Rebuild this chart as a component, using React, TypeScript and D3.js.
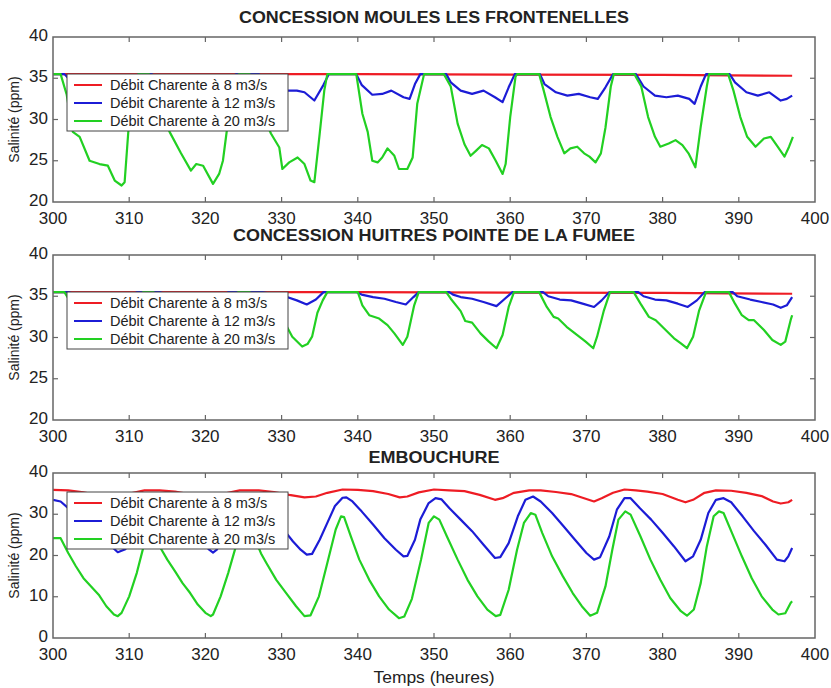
import React from "react";
import * as d3 from "d3";

// ---------- DATA (hour, salinity ppm) ----------
const SERIES_LABELS = [
  "Débit Charente à 8 m3/s",
  "Débit Charente à 12 m3/s",
  "Débit Charente à 20 m3/s",
];
const X_TICKS = [300, 310, 320, 330, 340, 350, 360, 370, 380, 390, 400];
const Y_TICKS_TOP = [20, 25, 30, 35, 40];
const Y_TICKS_EMB = [0, 10, 20, 30, 40];
const PANEL_TITLES = [
  "CONCESSION MOULES LES FRONTENELLES",
  "CONCESSION HUITRES POINTE DE LA FUMEE",
  "EMBOUCHURE",
];
const X_LABEL = "Temps (heures)";
const Y_LABEL = "Salinité (ppm)";

const moulesRed: [number, number][] = [
  [300, 35.5], [320, 35.5], [340, 35.5], [360, 35.45], [380, 35.4], [397, 35.3],
];
const moulesBlue: [number, number][] = [
  [300, 35.5], [301.5, 35.5], [302.5, 34.5], [304, 33.5], [306, 33.2], [308, 33], [309.5, 32.5], [310.5, 34], [311.2, 35.5],
  [313, 35.5], [314, 34.5], [315.5, 33.5], [317, 33.2], [319, 33.3], [321, 32.8], [322, 32.6], [323, 34], [324, 35.5],
  [327, 35.5], [328, 34.6], [329.5, 33.8], [330.6, 33.5], [332, 33.5], [333, 33.3], [334.3, 32.3], [335.5, 34.2], [336.2, 35.5],
  [339.8, 35.5], [340.5, 34.2], [341.9, 33], [343.2, 33.1], [344.4, 33.5], [346, 32.7], [346.8, 32.5], [347.5, 34.3], [348.2, 35.5],
  [351.6, 35.5], [352.2, 34.5], [353.5, 33.5], [355, 33.1], [356.5, 33.5], [358, 32.7], [359, 32.1], [359.8, 33.9], [360.6, 35.5],
  [363.9, 35.5], [364.5, 34.3], [366, 33.3], [367.5, 32.9], [369, 33.1], [370.5, 32.7], [371.5, 32.5], [372.5, 33.9], [373.5, 35.5],
  [376.5, 35.5], [377.5, 34], [379, 32.9], [380.5, 32.7], [382, 32.9], [383.5, 32.5], [384.2, 31.9], [385, 34], [385.7, 35.5],
  [388.8, 35.5], [389.5, 34.5], [391, 33.3], [392.5, 32.9], [394, 33.3], [395.5, 32.3], [396.3, 32.5], [397, 32.9],
];
const moulesGreen: [number, number][] = [
  [300, 35.5], [301, 35.5], [301.8, 33], [302.6, 28.5], [303.5, 27.9], [304.8, 25], [306.1, 24.6], [307.2, 24.4], [308.1, 22.6],
  [309, 22], [309.4, 22.4], [310, 30], [310.6, 33.5], [311.2, 35.5], [312.6, 35.5], [313.5, 33], [314.5, 30], [315.3, 28.5],
  [316.8, 25.9], [318.1, 23.8], [318.8, 24.6], [319.7, 24.4], [321, 22.2], [321.8, 23.4], [322.3, 25], [323, 30], [323.7, 34],
  [324.4, 35.5], [325.8, 35.5], [326.8, 33], [327.8, 30], [328.6, 28.3], [329.7, 26.6], [330.1, 24], [331, 24.8], [332.1, 25.4],
  [333, 24.6], [333.8, 22.6], [334.3, 22.4], [335, 28.3], [335.6, 33.5], [336, 35.5], [339.8, 35.5], [340.6, 30.7], [341.3, 28.5],
  [341.9, 25], [342.6, 24.8], [343.2, 25.4], [343.9, 26.5], [344.8, 25.6], [345.4, 24], [346.5, 24], [347.2, 25.4], [347.8, 31.9],
  [348.7, 35.5], [351.3, 35.5], [352.2, 34], [353.1, 29.5], [354, 27], [354.8, 25.6], [355.5, 26.2], [356.3, 26.9], [357.2, 26.5],
  [358.1, 25], [359, 23.4], [359.4, 24.6], [360, 30.3], [360.7, 35.2], [360.9, 35.5], [363.8, 35.5], [364.4, 33.5], [365.3, 30.3],
  [366.2, 27.9], [367.1, 25.9], [367.9, 26.5], [368.8, 26.7], [369.7, 25.9], [370.4, 25.5], [371.2, 24.8], [371.9, 25.9], [372.5, 29],
  [373.2, 34], [373.6, 35.5], [376.3, 35.5], [377.2, 34], [378.1, 30.3], [379, 27.9], [379.7, 26.7], [380.8, 27.1], [381.7, 27.5],
  [382.6, 26.9], [383.4, 25.9], [384.3, 24.2], [385, 29.1], [385.8, 34], [386.1, 35.5], [388.6, 35.5], [389.3, 33.5], [390.2, 30.3],
  [391.1, 27.9], [392.2, 26.7], [393.3, 27.7], [394.2, 27.9], [395.1, 26.7], [396, 25.5], [396.6, 26.7], [397.1, 27.9],
];

const huitresRed: [number, number][] = [
  [300, 35.5], [320, 35.5], [340, 35.5], [360, 35.45], [380, 35.4], [397, 35.3],
];
const huitresBlue: [number, number][] = [
  [300, 35.5], [302, 35.5], [303, 35.2], [305, 34.8], [307, 34.5], [309, 34], [310, 34.8], [311, 35.5],
  [314, 35.5], [315, 35.2], [317, 34.8], [319, 34.5], [321, 34], [322, 34.8], [323, 35.5],
  [327.5, 35.5], [328.5, 35.3], [330.7, 34.9], [332, 34.5], [333.3, 34], [334.5, 34.6], [335.5, 35.5],
  [339.8, 35.5], [340.5, 35.2], [342, 34.9], [343.5, 34.7], [345, 34.3], [346.3, 34], [347.3, 34.9], [348, 35.5],
  [352, 35.5], [352.5, 35.2], [353.5, 34.9], [355, 34.7], [356.5, 34.3], [358.2, 33.8], [359.3, 34.7], [360.3, 35.5],
  [364.3, 35.5], [365, 35], [366.5, 34.6], [368, 34.5], [369.5, 34.1], [371, 33.7], [372, 34.5], [373, 35.5],
  [376.8, 35.5], [377.5, 35], [379, 34.6], [380.5, 34.5], [382, 34.1], [383.3, 33.7], [384.5, 34.5], [385.5, 35.5],
  [389.2, 35.5], [389.8, 35], [391.5, 34.6], [393, 34.3], [394.5, 34], [395.5, 33.6], [396.3, 33.9], [397, 34.9],
];
const huitresGreen: [number, number][] = [
  [300, 35.5], [301.5, 35.5], [302.5, 34], [304, 32.5], [306, 31.5], [308, 30], [309, 29.2], [310, 31], [311, 34], [311.8, 35.5],
  [313.2, 35.5], [314.2, 34], [316, 32.5], [318, 31.5], [320, 30], [321, 29.3], [322, 31.5], [323.2, 34.5], [324.3, 35.5],
  [325.8, 35.5], [327, 34.5], [328.5, 33], [329.7, 32], [330.7, 31.3], [331.4, 30.1], [332.7, 28.9], [333.4, 29.2], [334, 30.1],
  [334.7, 33], [335.4, 34.5], [336, 35.5], [340, 35.5], [340.6, 33.9], [341.5, 32.7], [342.8, 32.3], [343.9, 31.5], [344.8, 30.5],
  [345.9, 29.1], [346.5, 30.1], [347.4, 33.9], [348, 35.5], [351.6, 35.5], [352.2, 34.7], [353.5, 33.2], [354.1, 32], [355, 31.8],
  [356.1, 30.5], [357.2, 29.5], [358.2, 28.7], [359, 30.3], [359.8, 33.7], [360.5, 35.5], [363.8, 35.5], [364.8, 33.7], [365.7, 32.5],
  [366.3, 32.3], [367.4, 31.3], [368.8, 30.3], [369.9, 29.5], [370.9, 28.7], [371.4, 30.1], [372.3, 33.3], [373.1, 35.5],
  [376.2, 35.5], [377.1, 34.1], [378.2, 32.5], [379.1, 32.1], [380.2, 31.1], [381.5, 29.9], [382.4, 29.3], [383.2, 28.7], [384, 30.1],
  [384.8, 33.3], [385.7, 35.5], [388.7, 35.5], [389.5, 34.1], [390.4, 32.7], [391.3, 32.1], [392, 32.1], [393.3, 30.9], [394.4, 29.7],
  [395.5, 29.1], [396.1, 29.5], [396.8, 32.1], [397, 32.7],
];

const embRed: [number, number][] = [
  [300, 35.9], [302, 35.8], [304, 35.3], [306, 34.6], [308, 34.2], [309, 34.4], [310.5, 35.2], [312, 35.8], [314, 35.8], [316, 35.5],
  [318, 34.8], [320, 34.2], [321, 34.3], [322.5, 35], [324.5, 35.8], [327, 35.8], [329, 35.4], [331, 34.7], [333, 34.1], [334.5, 34.3],
  [336, 35.2], [338, 36], [340, 35.9], [342, 35.6], [344, 34.9], [345.5, 34.1], [346.5, 34.3], [348, 35.3], [350, 36], [352, 35.8],
  [354, 35.6], [356, 34.7], [358, 33.5], [359, 33.9], [360.5, 35.2], [362.5, 35.8], [364, 35.8], [366, 35.4], [368, 34.9], [370, 33.7],
  [371, 33.1], [372, 33.9], [373.5, 35.2], [375, 36], [376.5, 35.8], [378, 35.5], [380, 34.9], [382, 33.5], [383, 32.9], [384, 33.5],
  [385.5, 35.2], [387, 35.8], [389, 35.7], [391, 35.2], [393, 34.4], [394.5, 33.1], [395.5, 32.6], [396.5, 32.9], [397, 33.5],
];
const embBlue: [number, number][] = [
  [300, 33.5], [301, 33.1], [302, 31.5], [304, 28.5], [306, 25], [307.5, 22.5], [308.5, 20.8], [309.5, 21.5], [311, 27], [312.5, 32.5],
  [313.3, 33.8], [314.5, 33], [316, 30.5], [318, 27], [319.5, 23.5], [320.5, 21.4], [321, 20.7], [321.5, 21.4], [323, 27], [324.5, 32.5],
  [325.6, 34], [326.5, 33.2], [328, 30.5], [329.5, 27.5], [330.6, 25.5], [331.5, 23.4], [332.5, 21.4], [333.3, 20.2], [334, 20.4],
  [335, 23.8], [336, 27.9], [337, 32], [338, 34], [338.5, 34.1], [339.3, 33.1], [340.5, 30.7], [342, 27.5], [343.5, 24.2], [345, 21.4],
  [346, 19.8], [346.5, 19.9], [347.5, 23.8], [348.2, 28.7], [349.3, 32.7], [350.2, 33.9], [351, 33.6], [352, 31.5], [353.5, 28.7],
  [355, 25.9], [356.5, 22.6], [358, 19.4], [358.7, 19.6], [359.8, 23], [361, 29.5], [362, 33.5], [363, 34.3], [364, 33.1], [365.5, 30.3],
  [367, 27.1], [368.5, 23.8], [370, 20.6], [371, 19], [371.8, 19.6], [373, 24.6], [374, 31.1], [375, 33.9], [375.8, 33.9], [377, 31.5],
  [378.5, 28.7], [380, 25.5], [381.5, 22.2], [383, 18.6], [384, 19.8], [385, 23.8], [386, 30.3], [387, 33.5], [388, 33.9], [389, 32.9],
  [390.5, 29.5], [392, 25.9], [393.5, 22.6], [395, 19], [396, 18.6], [396.5, 19.8], [397, 21.8],
];
const embGreen: [number, number][] = [
  [300, 24.2], [301, 24.2], [302, 20.6], [303, 17.4], [304, 14.5], [305, 12.5], [306, 10.5], [307, 7.7], [308, 5.7], [308.5, 5.3],
  [309, 6.1], [310, 10.1], [311, 15.8], [312, 23], [312.8, 28.5], [313.2, 28], [314, 22.2], [315, 19], [316, 16.2], [317, 13.3],
  [318, 10.9], [319, 8.1], [320, 6.1], [320.7, 5.3], [321, 5.7], [322, 10.1], [323, 15.8], [324, 22.2], [325, 28.5], [325.4, 29],
  [326.4, 24.5], [327.3, 20.5], [328, 18.2], [329.3, 14.1], [330.6, 10.9], [331.9, 7.7], [333, 5.3], [333.8, 5.5], [334.9, 10.1],
  [336, 18.2], [337.1, 26.3], [337.8, 29.5], [338.2, 29.3], [339.1, 24.6], [340.2, 19], [341.5, 14.1], [342.8, 10.1], [344.1, 6.9],
  [345.4, 4.8], [346.1, 5.2], [347.1, 9.5], [348.3, 19], [349.3, 27.9], [350, 29.5], [350.7, 28.7], [351.7, 24.6], [353.1, 19],
  [354.4, 14.1], [355.7, 10.1], [357, 6.9], [358.1, 5.3], [358.7, 5.6], [359.8, 11.7], [360.9, 21.4], [361.8, 27.9], [362.7, 30.3],
  [363.3, 29.9], [364.2, 25.5], [365.5, 19.8], [366.9, 15], [368.2, 10.9], [369.4, 7.7], [370.5, 5.4], [371.4, 6.1], [372.5, 12.5],
  [373.4, 21.4], [374.2, 28.7], [375.1, 30.7], [375.8, 29.9], [377.1, 24.6], [378.4, 19], [379.7, 14.1], [381, 9.7], [382.4, 6.5],
  [383.2, 5.4], [384.1, 6.9], [385, 13.3], [385.8, 22.2], [386.7, 29.5], [387.4, 30.7], [388, 30.3], [389.1, 25.5], [390.4, 19.8],
  [391.7, 14.5], [393, 10.1], [394.4, 6.9], [395.2, 5.7], [396.1, 6], [396.8, 8.5], [397, 8.9],
];

// ---------- LAYOUT / STYLE ----------
const COLORS = ["#ee1c24", "#1c1cd6", "#22d022"];
const LEFT = 53;
const RIGHT = 815;
const PH = 165;
const FONT = "Liberation Sans, Arial, Helvetica, sans-serif";

const panels = [
  { title: PANEL_TITLES[0], titleW: 390, top: 37, titleY: 17, domain: [20, 40], ticks: Y_TICKS_TOP, series: [moulesRed, moulesBlue, moulesGreen], legendTop: 74 },
  { title: PANEL_TITLES[1], titleW: 402, top: 255, titleY: 235, domain: [20, 40], ticks: Y_TICKS_TOP, series: [huitresRed, huitresBlue, huitresGreen], legendTop: 292 },
  { title: PANEL_TITLES[2], titleW: 131, top: 473, titleY: 457, domain: [0, 40], ticks: Y_TICKS_EMB, series: [embRed, embBlue, embGreen], legendTop: 492 },
];

function Panel({ p, idx }: { p: (typeof panels)[number]; idx: number }) {
  const x = d3.scaleLinear().domain([300, 400]).range([LEFT, RIGHT]);
  const y = d3.scaleLinear().domain(p.domain).range([p.top + PH, p.top]);
  const line = d3
    .line<[number, number]>()
    .x((d) => x(d[0]))
    .y((d) => y(d[1]));
  const bottom = p.top + PH;
  const clipId = `clip${idx}`;
  const lgLeft = 67;
  const lgW = 221;
  const lgH = 57;
  return (
    <g>
      <defs>
        <clipPath id={clipId}>
          <rect x={LEFT} y={p.top} width={RIGHT - LEFT} height={PH} />
        </clipPath>
      </defs>
      <rect x={LEFT} y={p.top} width={RIGHT - LEFT} height={PH} fill="#fff" />
      <g clipPath={`url(#${clipId})`}>
        {p.series.map((s, i) => (
          <path key={i} d={line(s) || ""} fill="none" stroke={COLORS[i]} strokeWidth={2.2} strokeLinejoin="round" />
        ))}
      </g>
      <rect x={LEFT} y={p.top} width={RIGHT - LEFT} height={PH} fill="none" stroke="#666" strokeWidth={1.5} />
      {X_TICKS.slice(1, -1).map((t) => (
        <g key={t}>
          <line x1={x(t)} x2={x(t)} y1={p.top} y2={p.top + 5} stroke="#666" strokeWidth={1.2} />
          <line x1={x(t)} x2={x(t)} y1={bottom} y2={bottom - 5} stroke="#666" strokeWidth={1.2} />
        </g>
      ))}
      {p.ticks.slice(1, -1).map((t) => (
        <g key={t}>
          <line x1={LEFT} x2={LEFT + 5} y1={y(t)} y2={y(t)} stroke="#666" strokeWidth={1.2} />
          <line x1={RIGHT} x2={RIGHT - 5} y1={y(t)} y2={y(t)} stroke="#666" strokeWidth={1.2} />
        </g>
      ))}
      {X_TICKS.map((t) => (
        <text key={t} x={x(t)} y={bottom + 22} textAnchor="middle" fontSize={17} fontFamily={FONT} fill="#222">
          {t}
        </text>
      ))}
      {p.ticks.map((t) => (
        <text key={t} x={LEFT - 5} y={y(t) + 4} textAnchor="end" fontSize={17} fontFamily={FONT} fill="#222">
          {t}
        </text>
      ))}
      <text
        transform={`translate(19,${p.top + PH / 2}) rotate(-90)`}
        textAnchor="middle"
        fontSize={14}
        fontFamily={FONT}
        fill="#222"
      >
        {Y_LABEL}
      </text>
      <text
        x={(LEFT + RIGHT) / 2}
        y={p.titleY + 6}
        textAnchor="middle"
        fontSize={16}
        fontWeight="bold"
        fontFamily={FONT}
        fill="#222"
        textLength={p.titleW}
        lengthAdjust="spacingAndGlyphs"
      >
        {p.title}
      </text>
      <g>
        <rect x={lgLeft} y={p.legendTop} width={lgW} height={lgH} fill="#fff" stroke="#444" strokeWidth={1} />
        {SERIES_LABELS.map((lab, i) => {
          const cy = p.legendTop + 11 + i * 18;
          return (
            <g key={lab}>
              <line x1={lgLeft + 7} x2={lgLeft + 35} y1={cy} y2={cy} stroke={COLORS[i]} strokeWidth={2} />
              <text x={lgLeft + 43} y={cy + 5} fontSize={14.5} fontFamily={FONT} fill="#222">
                {lab}
              </text>
            </g>
          );
        })}
      </g>
    </g>
  );
}

export default function App() {
  return (
    <svg
      width={831}
      height={688}
      style={{ position: "absolute", left: 0, top: 0, display: "block", background: "#fff" }}
    >
      <rect x={0} y={0} width={831} height={688} fill="#fff" />
      {panels.map((p, i) => (
        <Panel key={i} p={p} idx={i} />
      ))}
      <text
        x={(LEFT + RIGHT) / 2}
        y={683}
        textAnchor="middle"
        fontSize={16}
        fontFamily={FONT}
        fill="#222"
        textLength={121}
        lengthAdjust="spacingAndGlyphs"
      >
        {X_LABEL}
      </text>
    </svg>
  );
}
